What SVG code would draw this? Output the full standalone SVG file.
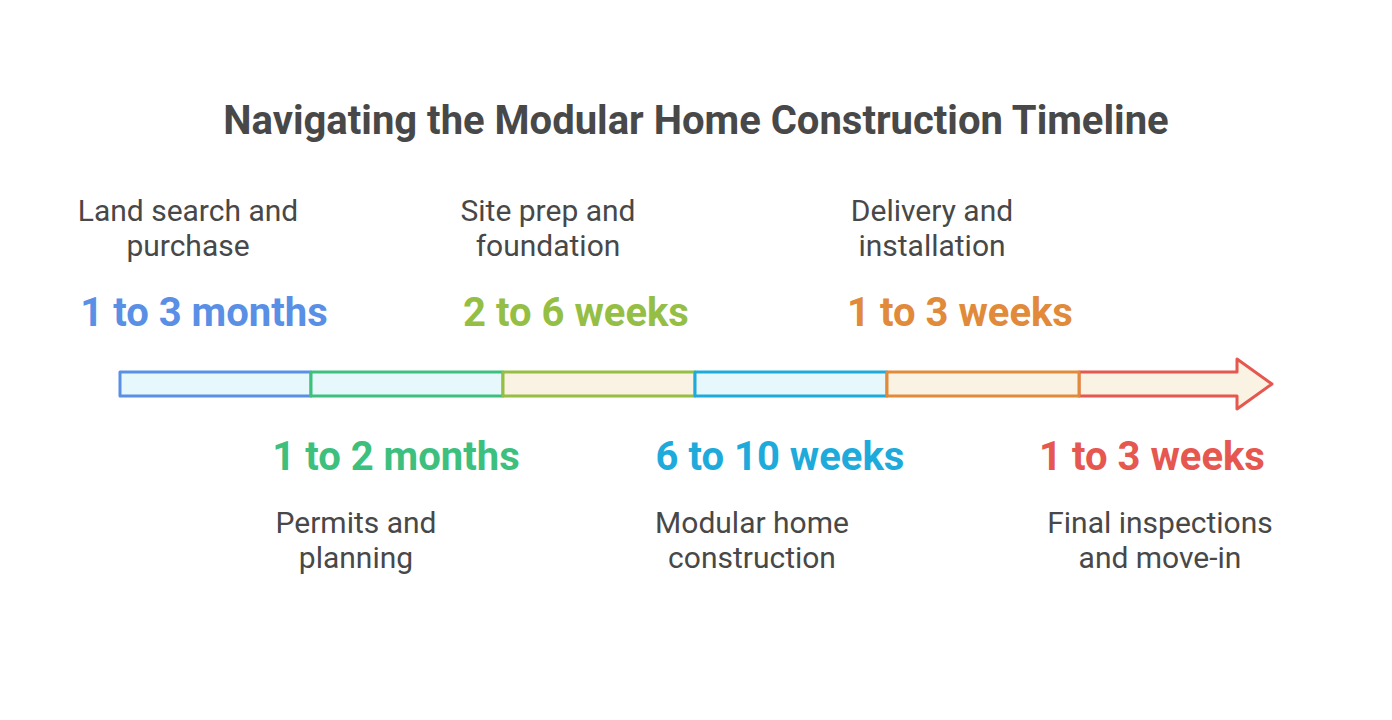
<svg xmlns="http://www.w3.org/2000/svg" width="1392" height="720" viewBox="0 0 1392 720">
<style>
.title{font-family:Roboto,"Liberation Sans",sans-serif;font-weight:700;font-size:40px;fill:#484848;text-anchor:middle}
.lbl{font-family:Roboto,"Liberation Sans",sans-serif;font-size:30px;fill:#484848;text-anchor:middle}
.dur{font-family:Roboto,"Liberation Sans",sans-serif;font-weight:700;font-size:40px;text-anchor:middle}
.seg{stroke-width:3;stroke-linejoin:round}
</style>
<rect width="1392" height="720" fill="#ffffff"/>
<text class="title" x="696" y="134">Navigating the Modular Home Construction Timeline</text>
<g id="connectors"></g>
<g id="seg6">
<path class="seg" d="M1079,372 H1237 V359 L1272,384 L1237,409 V396 H1079 Z" fill="#FAF2E3" stroke="#E5574F"/>
</g>
<g id="seg1"><rect class="seg" x="120" y="372" width="191" height="24" fill="#E6F8FB" stroke="#5A8FE6"/></g>
<g id="seg2"><rect class="seg" x="311" y="372" width="192" height="24" fill="#E6F8FB" stroke="#3DC07E"/></g>
<g id="seg3"><rect class="seg" x="503" y="372" width="192" height="24" fill="#FAF2E3" stroke="#95BE44"/></g>
<g id="seg4"><rect class="seg" x="695" y="372" width="192" height="24" fill="#E6F8FB" stroke="#1EAADB"/></g>
<g id="seg5"><rect class="seg" x="887" y="372" width="192" height="24" fill="#FAF2E3" stroke="#E08A3A"/></g>
<g id="node1">
<text class="lbl" x="188" y="221">Land search and</text>
<text class="lbl" x="188" y="256">purchase</text>
<text class="dur" x="204" y="326" fill="#5A8FE6">1 to 3 months</text>
</g>
<g id="node2">
<text class="dur" x="396" y="470" fill="#3DC07E">1 to 2 months</text>
<text class="lbl" x="356" y="533">Permits and</text>
<text class="lbl" x="356" y="568">planning</text>
</g>
<g id="node3">
<text class="lbl" x="548" y="221">Site prep and</text>
<text class="lbl" x="548" y="256">foundation</text>
<text class="dur" x="576" y="326" fill="#95BE44">2 to 6 weeks</text>
</g>
<g id="node4">
<text class="dur" x="780" y="470" fill="#1EAADB">6 to 10 weeks</text>
<text class="lbl" x="752" y="533">Modular home</text>
<text class="lbl" x="752" y="568">construction</text>
</g>
<g id="node5">
<text class="lbl" x="932" y="221">Delivery and</text>
<text class="lbl" x="932" y="256">installation</text>
<text class="dur" x="960" y="326" fill="#E08A3A">1 to 3 weeks</text>
</g>
<g id="node6">
<text class="dur" x="1152" y="470" fill="#E5574F">1 to 3 weeks</text>
<text class="lbl" x="1160" y="533">Final inspections</text>
<text class="lbl" x="1160" y="568">and move-in</text>
</g>
</svg>
